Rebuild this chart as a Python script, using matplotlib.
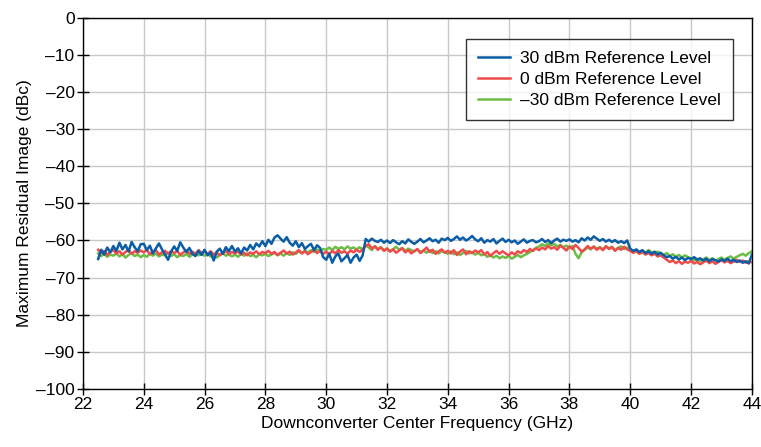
import numpy as np
import matplotlib.pyplot as plt

plt.rcParams['font.family'] = ['Liberation Sans', 'DejaVu Sans']

# frequency axis, 22.5 .. 44.0 GHz in 0.1 GHz steps
freq = np.round(np.arange(22.5, 44.01, 0.1), 1)

# 30 dBm reference level
ref_30 = [
    -65.0, -62.5, -63.8, -61.9, -63.2,
    -61.5, -62.8, -60.6, -62.4, -61.2, -63.0, -60.4, -61.8, -62.9, -61.0,
    -60.9, -62.6, -61.4, -63.5, -62.1, -60.8, -62.4, -63.8, -65.2, -63.0,
    -61.6, -62.8, -60.5, -61.9, -63.1, -62.0, -63.6, -64.2, -62.8, -63.9,
    -62.5, -64.0, -63.2, -65.4, -63.0, -62.2, -63.6, -61.8, -62.9, -61.5,
    -63.0, -62.1, -63.5, -61.9, -62.7, -61.2, -62.4, -60.8, -61.6, -60.2,
    -61.5, -59.8, -60.9, -59.2, -58.6, -59.5, -60.3, -59.1, -60.6, -61.4,
    -60.2, -61.8, -60.7, -62.3, -61.5, -60.9, -62.6, -61.3, -62.0, -64.5,
    -65.2, -63.6, -66.0, -64.3, -63.5, -65.6, -64.8, -63.9, -66.0, -64.6,
    -63.8, -65.5, -64.0, -59.6, -60.3, -59.5, -60.1, -60.4, -59.8, -60.6,
    -60.0, -60.7, -59.9, -60.5, -61.0, -60.2, -60.8, -59.7, -60.4, -60.9,
    -60.3, -59.6, -60.5, -60.0, -59.4, -60.2, -59.8, -60.6, -59.5, -59.9,
    -59.3, -60.1, -59.6, -58.9, -59.8, -59.2, -60.0, -59.5, -58.8, -59.7,
    -60.2, -59.4, -60.6, -59.9, -60.3, -59.6, -60.8, -60.1, -59.5, -60.4,
    -59.8, -60.5, -60.0, -60.9, -60.3, -59.7, -60.6, -60.1, -59.9, -60.5,
    -60.2, -59.6, -60.4, -59.9, -60.7, -60.0, -59.5, -60.3, -59.8, -60.1,
    -59.7, -60.3, -59.9, -60.5, -59.4, -60.0, -59.2, -59.8, -58.9, -59.5,
    -60.1, -59.6, -60.3, -59.8, -60.4, -59.9, -60.6, -60.2, -60.7, -60.0,
    -62.2, -62.8, -62.4, -63.1, -62.6, -63.4, -62.9, -63.6, -63.0, -63.8,
    -63.3, -64.0, -64.5, -64.2, -64.9, -64.4, -65.1, -64.6, -65.3, -64.7,
    -65.0, -64.5, -65.2, -64.8, -65.4, -64.9, -65.6, -65.0, -65.3, -65.7,
    -65.1, -65.5, -64.9, -65.6, -65.2, -65.8, -65.4, -66.0, -65.6, -66.2,
    -63.8,
]

# 0 dBm reference level
ref_0 = [
    -62.5, -63.4, -62.8, -63.9, -63.0,
    -62.6, -63.5, -62.9, -63.8, -63.1, -62.4, -63.6, -62.9, -63.3, -62.7,
    -63.2, -62.5, -63.7, -63.0, -62.6, -63.8, -63.2, -62.8, -63.5, -62.9,
    -63.4, -62.8, -63.9, -63.2, -62.7, -63.6, -63.0, -63.8, -62.6, -63.3,
    -63.0, -63.6, -62.9, -63.8, -63.2, -64.0, -63.4, -62.8, -63.7, -63.1,
    -63.5, -62.9, -63.8, -63.3, -64.0, -63.2, -63.6, -62.9, -63.7, -63.1,
    -63.4, -62.8, -63.6, -63.1, -63.9, -63.3, -62.7, -63.5, -63.0, -63.8,
    -63.2, -62.6, -63.5, -62.9, -63.7, -63.1, -62.5, -63.4, -62.8, -63.6,
    -63.0, -63.7, -62.8, -63.5, -62.6, -63.3, -62.9, -63.6, -62.7, -63.2,
    -62.5, -63.1, -62.4, -61.5, -61.0, -62.2, -61.6, -62.5, -61.9, -62.8,
    -62.2, -63.0, -62.4, -63.3, -62.7, -62.1, -63.2, -62.6, -63.5, -62.8,
    -62.3, -63.4, -62.7, -61.9, -63.1, -62.5, -63.6, -62.9, -62.4, -63.3,
    -62.8, -63.5, -62.6, -63.9, -63.0, -62.4, -63.7, -62.9, -63.4, -62.7,
    -63.2, -62.6, -63.8, -63.1, -64.2, -63.4, -62.8, -63.6, -62.9, -63.5,
    -64.0, -63.2, -63.8, -62.9, -63.4, -62.6, -63.1, -62.3, -62.8, -62.1,
    -62.6, -61.9, -62.4, -61.5, -62.2, -61.8, -62.5, -61.4, -62.0, -62.7,
    -61.6, -62.3, -61.2, -62.0, -63.0, -62.4, -61.5, -62.2, -61.7, -62.5,
    -61.9, -62.6, -61.6, -62.3, -61.8, -62.8, -62.0, -62.5, -61.7, -62.4,
    -62.8, -63.3, -62.9, -63.6, -63.1, -63.8, -63.4, -64.0, -63.6, -64.3,
    -64.0, -64.6, -65.2, -65.8, -65.4, -66.1, -65.6, -66.3, -65.7, -66.0,
    -65.5, -66.2, -65.8, -66.4, -65.9, -65.4, -66.1, -65.6, -66.3, -65.8,
    -65.3, -65.9, -65.5, -66.1, -65.7, -65.2, -65.8, -65.4, -66.0, -65.6,
    -65.9,
]

# -30 dBm reference level
ref_m30 = [
    -63.5, -64.2, -63.6, -64.4, -63.8,
    -64.1, -63.5, -64.3, -63.7, -64.6, -63.9, -63.4, -64.2, -63.8, -64.5,
    -63.9, -64.4, -63.6, -64.1, -63.5, -64.3, -63.8, -64.0, -63.4, -64.2,
    -63.7, -64.5, -63.9, -64.2, -63.6, -64.4, -63.8, -63.3, -64.0, -63.6,
    -64.1, -63.5, -64.3, -63.8, -64.6, -63.9, -63.4, -64.1, -63.7, -64.3,
    -63.8, -64.4, -63.6, -64.1, -63.5, -64.2, -63.9, -64.5, -63.7, -64.0,
    -63.6, -64.2, -63.8, -63.3, -64.0, -63.5, -64.1, -63.4, -63.9, -63.2,
    -63.6, -62.9, -63.4, -62.7, -63.2, -62.6, -63.1, -62.4, -62.9, -62.3,
    -62.5, -61.9, -62.6, -61.7, -62.3, -61.8, -62.4, -61.6, -62.2, -61.9,
    -62.4, -61.8, -62.5, -61.2, -61.9, -62.6, -61.5, -62.3, -61.8, -62.7,
    -62.1, -62.9, -62.3, -61.7, -62.5, -62.0, -62.8, -62.2, -62.6, -63.0,
    -62.4, -63.1, -62.7, -63.3, -62.6, -63.4, -62.9, -63.5, -62.8, -63.2,
    -63.6, -62.9, -63.7, -63.2, -63.9, -63.4, -62.8, -63.5, -63.1, -63.8,
    -63.3, -64.0, -63.6, -64.4, -63.9, -64.6, -64.1, -64.8, -64.3, -64.7,
    -64.2, -64.9, -64.4, -63.9, -64.5, -64.0, -63.6, -63.1, -62.6, -62.0,
    -61.6, -61.0, -61.5, -60.8, -61.3, -60.9, -61.6, -61.2, -61.8, -61.4,
    -62.0, -61.5, -63.6, -64.8, -63.2, -62.5, -61.9, -62.4, -61.6, -62.2,
    -61.8, -62.4, -61.5, -62.1, -61.7, -62.6, -62.0, -61.6, -62.3, -61.9,
    -62.6, -63.2, -62.7, -63.5, -62.9, -63.3, -62.6, -63.1, -63.6, -63.0,
    -63.5, -63.9, -63.4, -64.2, -63.7, -64.4, -63.9, -64.6, -64.0, -64.5,
    -64.8, -65.4, -64.9, -65.6, -65.1, -64.6, -65.3, -64.8, -65.5, -65.0,
    -64.6, -65.2, -64.7, -64.3, -64.9, -64.4, -64.0, -63.6, -64.1, -63.4,
    -62.9,
]

series_names = ['30 dBm Reference Level', '0 dBm Reference Level',
                '\u201330 dBm Reference Level']
colors = ['#0b5da6', '#f04b4b', '#6cbd45']

x_ticks = [22, 24, 26, 28, 30, 32, 34, 36, 38, 40, 42, 44]
y_ticks = [0, -10, -20, -30, -40, -50, -60, -70, -80, -90, -100]
y_tick_labels = ['0' if v == 0 else '\u2013' + str(-v) for v in y_ticks]

fig = plt.figure(figsize=(7.61, 4.47), dpi=100)
ax = fig.add_axes([0.109, 0.130, 0.879, 0.830])

# blue on top, then red, then green
for vals, name, c, z in [(ref_30, series_names[0], colors[0], 4),
                         (ref_0, series_names[1], colors[1], 3),
                         (ref_m30, series_names[2], colors[2], 2)]:
    ax.plot(freq, vals, color=c, lw=1.8, label=name, zorder=z)

ax.set_xlim(22, 44)
ax.set_ylim(-100, 0)
ax.set_xticks(x_ticks)
ax.set_yticks(y_ticks)
ax.set_yticklabels(y_tick_labels)
ax.grid(True, color='#c8c8c8', lw=1.0)
ax.set_axisbelow(True)
ax.tick_params(direction='inout', length=8, width=1, labelsize=12.5, pad=2)
for s in ax.spines.values():
    s.set_linewidth(1.0)

ax.set_xlabel('Downconverter Center Frequency (GHz)', fontsize=12.5, labelpad=3)
ax.set_ylabel('Maximum Residual Image (dBc)', fontsize=12.5, labelpad=3)

leg = ax.legend(loc='upper right', bbox_to_anchor=(0.972, 0.943), fontsize=12.5,
                borderaxespad=0, frameon=True, fancybox=False, edgecolor='black',
                handlelength=1.8, handletextpad=0.6, borderpad=0.7,
                labelspacing=0.32)
leg.get_frame().set_linewidth(1.0)

fig.savefig('out.png', dpi=100)
